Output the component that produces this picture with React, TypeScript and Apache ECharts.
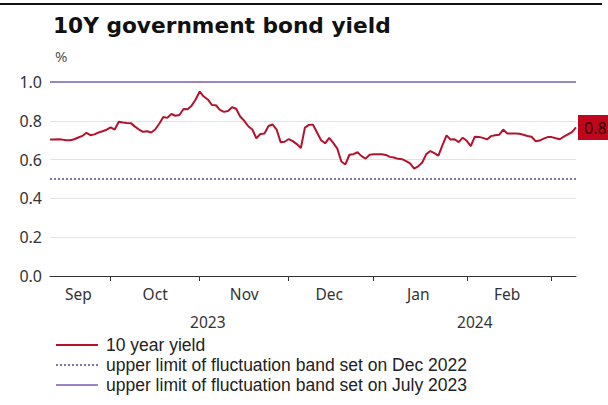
import React, { useEffect, useRef } from "react";
import * as echarts from "echarts";

// Trading (week) days from 2023-09-11 to 2024-03-11
const startDate = "2023-09-11";
const endDate = "2024-03-11";

// 10 year yield, one value per weekday
const yieldValues = [
  0.704, 0.704, 0.705, 0.703, 0.7, 0.7, 0.705, 0.714, 0.722, 0.738,
  0.726, 0.73, 0.74, 0.746, 0.754, 0.766, 0.755, 0.795, 0.791, 0.789,
  0.788, 0.77, 0.755, 0.743, 0.746, 0.74, 0.755, 0.785, 0.82, 0.815,
  0.835, 0.826, 0.83, 0.861, 0.859, 0.878, 0.91, 0.951, 0.925, 0.91,
  0.882, 0.88, 0.856, 0.846, 0.851, 0.87, 0.862, 0.822, 0.8, 0.772,
  0.755, 0.71, 0.732, 0.735, 0.773, 0.781, 0.755, 0.69, 0.692, 0.706,
  0.695, 0.68, 0.66, 0.765, 0.779, 0.78, 0.74, 0.7, 0.684, 0.712,
  0.686, 0.657, 0.59, 0.575, 0.625, 0.628, 0.638, 0.618, 0.605, 0.625,
  0.627, 0.627, 0.627, 0.624, 0.614, 0.611, 0.604, 0.602, 0.592, 0.58,
  0.553, 0.565, 0.585, 0.628, 0.644, 0.633, 0.62, 0.675, 0.725, 0.703,
  0.705, 0.69, 0.713, 0.697, 0.67, 0.718, 0.717, 0.712, 0.704, 0.721,
  0.725, 0.728, 0.755, 0.735, 0.734, 0.734, 0.733, 0.728, 0.722, 0.718,
  0.695, 0.698, 0.708, 0.716, 0.716, 0.71, 0.705, 0.718, 0.73, 0.742,
  0.766,
];

const bandDec2022 = 0.5;
const bandJuly2023 = 1.0;

const yTicks = [0, 0.2, 0.4, 0.6, 0.8, 1.0];
const monthNames = ["Jan", "Feb", "Mar", "Apr", "May", "Jun", "Jul", "Aug", "Sep", "Oct", "Nov", "Dec"];

const seriesNames = [
  "10 year yield",
  "upper limit of fluctuation band set on Dec 2022",
  "upper limit of fluctuation band set on July 2023",
];

function buildDates(): string[] {
  const out: string[] = [];
  const d = new Date(startDate + "T00:00:00Z");
  const end = new Date(endDate + "T00:00:00Z");
  while (d <= end) {
    const wd = d.getUTCDay();
    if (wd !== 0 && wd !== 6) out.push(d.toISOString().slice(0, 10));
    d.setUTCDate(d.getUTCDate() + 1);
  }
  return out;
}

export default function App() {
  const ref = useRef<HTMLDivElement>(null);
  useEffect(() => {
    if (!ref.current) return;
    const chart = echarts.init(ref.current, undefined, { renderer: "svg" });
    const dates = buildDates();
    const ym = dates.map((s) => s.slice(0, 7));
    const monthFirst = new Set<number>();
    const monthStarts: number[] = [];
    ym.forEach((m, i) => {
      if (i === 0 || m !== ym[i - 1]) monthStarts.push(i);
    });
    monthStarts.forEach((i) => {
      if (i !== 0) monthFirst.add(i);
    });
    const monthLabelIdx = new Set<number>();
    monthStarts.forEach((s, k) => {
      const next = k + 1 < monthStarts.length ? monthStarts[k + 1] : dates.length;
      if (next - s >= 10) monthLabelIdx.add(Math.floor((s + next) / 2));
    });
    const yr = dates.map((s) => s.slice(0, 4));
    const yearLabelIdx = new Set<number>();
    let ys = 0;
    for (let i = 1; i <= dates.length; i++) {
      if (i === dates.length || yr[i] !== yr[i - 1]) {
        yearLabelIdx.add(Math.floor((ys + i - 1) / 2));
        ys = i;
      }
    }
    const font = "'Noto Sans', sans-serif";
    const first = dates[0];
    const last = dates[dates.length - 1];

    chart.setOption({
      animation: false,
      backgroundColor: "#ffffff",
      title: [
        {
          text: "10Y government bond yield",
          left: 48,
          top: 9,
          textStyle: { fontFamily: "'DejaVu Sans', sans-serif", fontSize: 21.7, fontWeight: "bold", color: "#111" },
        },
        {
          text: "%",
          left: 50,
          top: 43,
          textStyle: { fontFamily: font, fontSize: 15, fontWeight: "normal", color: "#555" },
        },
      ],
      graphic: [
        { type: "rect", left: 0, top: 3, shape: { width: 602, height: 2 }, style: { fill: "#111" } },
      ],
      grid: { left: 50, right: 32, top: 82, bottom: 129 },
      legend: {
        orient: "vertical",
        left: 50,
        top: 331,
        itemWidth: 42,
        itemHeight: 10,
        itemGap: 2,
        itemStyle: { opacity: 0 },
        textStyle: {
          fontFamily: "'Liberation Sans', Arial, sans-serif",
          fontSize: 17.5,
          lineHeight: 18,
          color: "#222",
          padding: [0, 0, 0, 3],
        },
        data: seriesNames,
      },
      xAxis: [
        {
          type: "category",
          data: dates,
          boundaryGap: false,
          axisLine: { lineStyle: { color: "#333", width: 1 } },
          axisTick: {
            show: true,
            length: 5,
            interval: (i: number) => monthFirst.has(i),
            lineStyle: { color: "#333" },
          },
          axisLabel: {
            interval: (i: number) => monthLabelIdx.has(i),
            formatter: (v: string) => monthNames[parseInt(v.slice(5, 7), 10) - 1],
            fontFamily: font,
            fontSize: 15.5,
            color: "#333",
            margin: 10,
          },
          splitLine: { show: false },
        },
        {
          type: "category",
          data: dates,
          boundaryGap: false,
          position: "bottom",
          offset: 28,
          axisLine: { show: false },
          axisTick: { show: false },
          axisLabel: {
            interval: (i: number) => yearLabelIdx.has(i),
            formatter: (v: string) => v.slice(0, 4),
            fontFamily: font,
            fontSize: 15.5,
            color: "#333",
            margin: 10,
          },
        },
      ],
      yAxis: {
        type: "value",
        min: yTicks[0],
        max: yTicks[yTicks.length - 1],
        interval: 0.2,
        axisLine: { show: false },
        axisTick: { show: false },
        splitLine: { lineStyle: { color: "#e3e3e3", width: 1 } },
        axisLabel: {
          formatter: (v: number) => v.toFixed(1),
          fontFamily: font,
          fontSize: 16,
          color: "#333",
          margin: 8,
        },
      },
      series: [
        {
          name: seriesNames[0],
          type: "line",
          data: yieldValues,
          symbol: "none",
          lineStyle: { color: "#b3132d", width: 2 },
          itemStyle: { color: "#b3132d" },
          z: 5,
          endLabel: {
            show: true,
            formatter: (p: any) => "{v|" + Number(p.value).toFixed(1) + "}",
            backgroundColor: "#c0061c",
            padding: [5, 6, 4, 6],
            distance: 2,
            rich: {
              v: { color: "#2a0505", fontFamily: font, fontSize: 16 },
            },
          },
        },
        {
          name: seriesNames[1],
          type: "line",
          data: [
            [first, bandDec2022],
            [last, bandDec2022],
          ],
          symbol: "none",
          lineStyle: { color: "#7b78b0", width: 2, type: [2, 2] },
          itemStyle: { color: "#7b78b0" },
          z: 3,
        },
        {
          name: seriesNames[2],
          type: "line",
          data: [
            [first, bandJuly2023],
            [last, bandJuly2023],
          ],
          symbol: "none",
          lineStyle: { color: "#9b84c2", width: 2 },
          itemStyle: { color: "#9b84c2" },
          z: 3,
        },
      ],
    });
    return () => chart.dispose();
  }, []);
  return (
    <div
      ref={ref}
      style={{ position: "absolute", left: 0, top: 0, width: 608, height: 405 }}
    />
  );
}
